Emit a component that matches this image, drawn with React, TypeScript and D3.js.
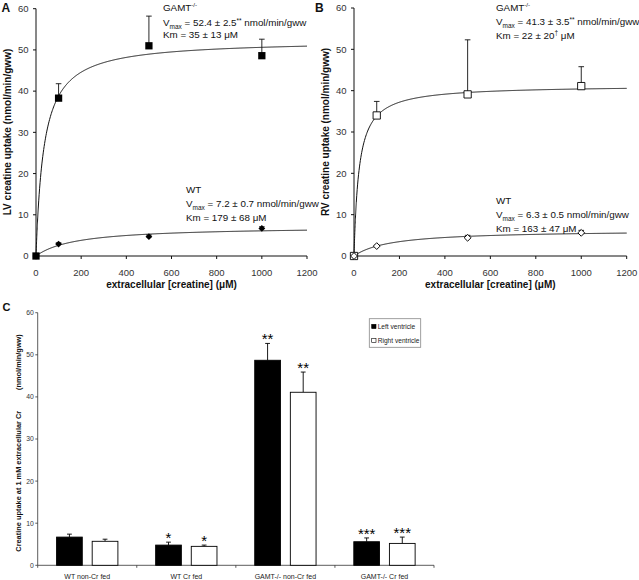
import React from 'react';
import * as d3 from 'd3';

// creatine concentration (µM) used in panels A and B
const conc = [0, 100, 500, 1000];

// panel A – left ventricle
const lvGamt = [0, 38.3, 51.0, 48.6];
const lvGamtErr = [0, 3.5, 7.2, 4.0];
const lvWt = [0, 2.9, 4.7, 6.7];
const lvWtErr = [0, 0.3, 0.4, 0.4];

// panel B – right ventricle
const rvGamt = [0, 34.0, 39.1, 41.1];
const rvGamtErr = [0, 3.4, 13.2, 4.7];
const rvWt = [0, 2.4, 4.4, 5.6];
const rvWtErr = [0, 0.2, 0.6, 0.6];

// Michaelis-Menten fits [Vmax, Km]
const lvGamtFit = [52.4, 35];
const lvWtFit = [7.2, 179];
const rvGamtFit = [41.3, 22];
const rvWtFit = [6.3, 163];

const yTicks = [0, 10, 20, 30, 40, 50, 60];
const xTicks = [0, 200, 400, 600, 800, 1000, 1200];

// panel C – uptake at 1 mM
const groups = ['WT non-Cr fed', 'WT Cr fed', 'GAMT-/- non-Cr fed', 'GAMT-/- Cr fed'];
const lvBar = [6.7, 4.8, 48.7, 5.6];
const lvBarErr = [0.7, 0.7, 4.0, 0.9];
const rvBar = [5.7, 4.5, 41.1, 5.2];
const rvBarErr = [0.5, 0.3, 4.8, 1.5];
const lvStars = ['', '*', '**', '***'];
const rvStars = ['', '*', '**', '***'];
const sides = ['LV', 'RV'];

const FONT = 'Arial, "Liberation Sans", sans-serif';
const INK = '#111';
const NOTE = 9.8;

const mm = (fit: number[], x: number) => (fit[0] * x) / (fit[1] + x);
const curveX = d3.range(0, 10, 0.25).concat(d3.range(10, 1201, 2));

interface PanelProps {
  xr: [number, number];
  yr: [number, number];
  letter: string;
  letterX: number;
  yLabel: string;
  gamt: number[];
  gamtErr: number[];
  wt: number[];
  wtErr: number[];
  gamtFit: number[];
  wtFit: number[];
  open: boolean;
  notes: React.ReactNode;
}

const KineticPanel: React.FC<PanelProps> = (p) => {
  const x = d3.scaleLinear().domain([0, 1200]).range(p.xr);
  const y = d3.scaleLinear().domain([0, 60]).range(p.yr);
  const line = d3.line<number>().x((d) => x(d));
  const gPath = line.y((d) => y(mm(p.gamtFit, d)))(curveX) || '';
  const wPath = line.y((d) => y(mm(p.wtFit, d)))(curveX) || '';
  const sq = d3.symbol(d3.symbolSquare, 53)() || '';
  const dia = d3.symbol(d3.symbolSquare, 23)() || '';
  const fill = p.open ? '#fff' : '#000';

  const errs = (vals: number[], err: number[]) =>
    vals.map((v, i) =>
      err[i] > 0 ? (
        <g key={i} stroke={INK} strokeWidth={0.9}>
          <line x1={x(conc[i])} x2={x(conc[i])} y1={y(v)} y2={y(v + err[i])} />
          <line x1={x(conc[i]) - 2.8} x2={x(conc[i]) + 2.8} y1={y(v + err[i])} y2={y(v + err[i])} />
        </g>
      ) : null
    );

  return (
    <g fontFamily={FONT} fill={INK}>
      <text x={p.letterX} y={12} fontSize={12} fontWeight="bold">{p.letter}</text>
      {/* axes */}
      <line x1={p.xr[0]} x2={p.xr[0]} y1={p.yr[0]} y2={p.yr[1]} stroke={INK} />
      <line x1={p.xr[0]} x2={p.xr[1]} y1={p.yr[0]} y2={p.yr[0]} stroke={INK} />
      {yTicks.map((t) => (
        <g key={t}>
          <line x1={p.xr[0] - 3} x2={p.xr[0]} y1={y(t)} y2={y(t)} stroke={INK} />
          <text x={p.xr[0] - 7.5} y={y(t) + 3.3} fontSize={9.5} textAnchor="end" fill="#333">{t}</text>
        </g>
      ))}
      {xTicks.map((t) => (
        <g key={t}>
          <line x1={x(t)} x2={x(t)} y1={p.yr[0]} y2={p.yr[0] + 3} stroke={INK} />
          <text x={x(t)} y={276} fontSize={9.5} textAnchor="middle" fill="#333">{t}</text>
        </g>
      ))}
      <text x={(p.xr[0] + p.xr[1]) / 2} y={288} fontSize={10} fontWeight="bold" textAnchor="middle">
        extracellular [creatine] (μM)
      </text>
      <text
        transform={`translate(${p.xr[0] - 25.5},132) rotate(-90)`}
        fontSize={10}
        fontWeight="bold"
        textAnchor="middle"
      >
        {p.yLabel}
      </text>
      {/* fitted curves */}
      <path d={gPath} fill="none" stroke={INK} strokeWidth={1} />
      <path d={wPath} fill="none" stroke={INK} strokeWidth={1} />
      {errs(p.gamt, p.gamtErr)}
      {errs(p.wt, p.wtErr)}
      {p.gamt.map((v, i) => (
        <path key={'g' + i} d={sq} transform={`translate(${x(conc[i])},${y(v)})`} fill={fill} stroke="#000" strokeWidth={p.open ? 0.9 : 0} />
      ))}
      {p.wt.map((v, i) => (
        <path key={'w' + i} d={dia} transform={`translate(${x(conc[i])},${y(v)}) rotate(45)`} fill={fill} stroke="#000" strokeWidth={p.open ? 0.9 : 0} />
      ))}
      {p.notes}
    </g>
  );
};

const Notes: React.FC<{ x: number; ys: number[]; vmax: string; stars: boolean; km: React.ReactNode; label: React.ReactNode }> = ({ x, ys, vmax, stars, km, label }) => (
  <g fontFamily={FONT} fill={INK}>
    <text x={x} y={ys[0]} fontSize={NOTE}>{label}</text>
    <text x={x} y={ys[1]} fontSize={NOTE}>
      V<tspan fontSize={6.5} dy={2.5}>max</tspan>
      <tspan dy={-2.5}>{` = ${vmax}`}</tspan>
      {stars ? <tspan fontSize={6.5} dy={-3}>**</tspan> : null}
      <tspan dy={stars ? 3 : 0}> nmol/min/gww</tspan>
    </text>
    <text x={x} y={ys[2]} fontSize={NOTE}>{km}</text>
  </g>
);

const gamtLabel = (
  <>
    GAMT<tspan fontSize={6.2} dy={-4}>-/-</tspan>
  </>
);

const BarPanel: React.FC = () => {
  const y = d3.scaleLinear().domain([0, 60]).range([565.3, 312.7]);
  const x = d3.scaleBand<string>().domain(groups).range([37.7, 434]).padding(0);
  const inner = d3.scaleBand<string>().domain(sides).range([0, x.bandwidth()]).paddingInner(0.278).paddingOuter(0.53);
  const boundaries = [37.7, ...groups.map((g) => (x(g) || 0) + x.bandwidth())];
  const series = [
    { key: 'LV', vals: lvBar, err: lvBarErr, stars: lvStars, fill: '#000' },
    { key: 'RV', vals: rvBar, err: rvBarErr, stars: rvStars, fill: '#fff' },
  ];

  return (
    <g fontFamily={FONT} fill={INK}>
      <text x={2.5} y={311} fontSize={11} fontWeight="bold">C</text>
      <line x1={37.7} x2={37.7} y1={y(0)} y2={y(60)} stroke="#333" strokeWidth={0.8} />
      <line x1={37.7} x2={434} y1={y(0)} y2={y(0)} stroke="#333" strokeWidth={0.8} />
      {yTicks.map((t) => (
        <g key={t}>
          <line x1={35.3} x2={37.7} y1={y(t)} y2={y(t)} stroke="#333" strokeWidth={0.8} />
          <text x={33.7} y={y(t) + 2.4} fontSize={6.8} textAnchor="end" fill="#333">{t}</text>
        </g>
      ))}
      {boundaries.map((b, i) => (
        <line key={i} x1={b} x2={b} y1={y(0)} y2={y(0) + 2.5} stroke="#333" strokeWidth={0.8} />
      ))}
      {groups.map((g) => (
        <text key={g} x={(x(g) || 0) + x.bandwidth() / 2} y={578.5} fontSize={7} textAnchor="middle" fill="#222">{g}</text>
      ))}
      <text transform="translate(20.5,551.7) rotate(-90)" fontSize={7.4} fontWeight="bold">
        Creatine uptake at 1 mM extracellular Cr
      </text>
      <text transform="translate(20.5,390) rotate(-90)" fontSize={7.4} fontWeight="bold">
        (nmol/min/gww)
      </text>
      {series.map((s) =>
        groups.map((g, i) => {
          const bx = (x(g) || 0) + (inner(s.key) || 0);
          const cx = bx + inner.bandwidth() / 2;
          const top = y(s.vals[i] + s.err[i]);
          return (
            <g key={s.key + g}>
              <line x1={cx} x2={cx} y1={y(s.vals[i])} y2={top} stroke="#000" strokeWidth={0.9} />
              <line x1={cx - 2.4} x2={cx + 2.4} y1={top} y2={top} stroke="#000" strokeWidth={0.9} />
              <rect x={bx} y={y(s.vals[i])} width={inner.bandwidth()} height={y(0) - y(s.vals[i])} fill={s.fill} stroke="#000" strokeWidth={0.9} />
              {s.stars[i] ? (
                <text x={cx} y={top + 1} fontSize={15} textAnchor="middle" fill="#000">{s.stars[i]}</text>
              ) : null}
            </g>
          );
        })
      )}
      {/* legend */}
      <rect x={369.3} y={318.7} width={51.4} height={28.6} fill="#fff" stroke="#888" strokeWidth={0.8} />
      <rect x={371.7} y={324.3} width={4.3} height={4.3} fill="#000" stroke="#000" strokeWidth={0.6} />
      <text x={377.7} y={328.6} fontSize={6.6} fill="#222">Left ventricle</text>
      <rect x={371.7} y={338.3} width={4.3} height={4.3} fill="#fff" stroke="#000" strokeWidth={0.6} />
      <text x={377.7} y={342.6} fontSize={6.6} fill="#222">Right ventricle</text>
    </g>
  );
};

const App: React.FC = () => (
  <svg width={639} height={580} style={{ position: 'absolute', left: 0, top: 0, background: '#fff' }}>
    <KineticPanel
      xr={[36, 307]}
      yr={[256, 8.7]}
      letter="A"
      letterX={1.5}
      yLabel="LV creatine uptake (nmol/min/gww)"
      gamt={lvGamt}
      gamtErr={lvGamtErr}
      wt={lvWt}
      wtErr={lvWtErr}
      gamtFit={lvGamtFit}
      wtFit={lvWtFit}
      open={false}
      notes={
        <>
          <Notes x={163} ys={[11, 26, 38]} vmax="52.4 ± 2.5" stars label={gamtLabel} km="Km = 35 ± 13 μM" />
          <Notes x={186} ys={[193, 207, 221]} vmax="7.2 ± 0.7" stars={false} label="WT" km="Km = 179 ± 68 μM" />
        </>
      }
    />
    <KineticPanel
      xr={[354, 626.7]}
      yr={[256, 8]}
      letter="B"
      letterX={315}
      yLabel="RV creatine uptake (nmol/min/gww)"
      gamt={rvGamt}
      gamtErr={rvGamtErr}
      wt={rvWt}
      wtErr={rvWtErr}
      gamtFit={rvGamtFit}
      wtFit={rvWtFit}
      open
      notes={
        <>
          <Notes x={496} ys={[10.5, 25, 38.5]} vmax="41.3 ± 3.5" stars label={gamtLabel} km={<>Km = 22 ± 20<tspan fontSize={6.5} dy={-3.5}>†</tspan><tspan dy={3.5}> μM</tspan></>} />
          <Notes x={496} ys={[204, 218, 231.5]} vmax="6.3 ± 0.5" stars={false} label="WT" km="Km = 163 ± 47 μM" />
        </>
      }
    />
    <BarPanel />
  </svg>
);

export default App;
